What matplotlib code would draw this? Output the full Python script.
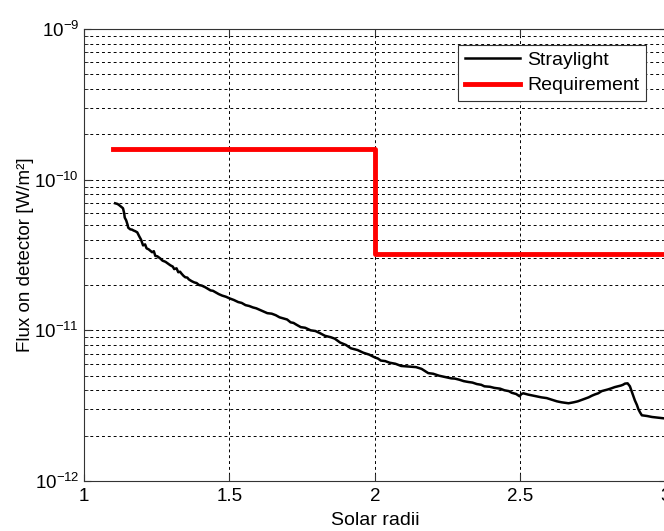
import numpy as np
import matplotlib.pyplot as plt
from matplotlib.ticker import LogLocator, NullFormatter

plt.rcParams['font.family'] = ['Liberation Sans', 'DejaVu Sans']
plt.rcParams['mathtext.default'] = 'regular'

# straylight curve
r_stray = [1.107, 1.115, 1.12, 1.128, 1.134, 1.138, 1.14, 1.145, 1.15, 1.152, 1.159, 1.165,
           1.17, 1.176, 1.183, 1.19, 1.196, 1.203, 1.21, 1.215, 1.222, 1.234, 1.24, 1.245,
           1.252, 1.262, 1.27, 1.28, 1.288, 1.297, 1.305, 1.31, 1.318, 1.324, 1.33, 1.335,
           1.342, 1.348, 1.355, 1.36, 1.37, 1.379, 1.387, 1.395, 1.405, 1.417, 1.427, 1.435,
           1.443, 1.452, 1.463, 1.475, 1.488, 1.5, 1.515, 1.53, 1.542, 1.555, 1.568, 1.58,
           1.592, 1.607, 1.618, 1.63, 1.645, 1.659, 1.672, 1.685, 1.698, 1.71, 1.72, 1.73,
           1.745, 1.76, 1.779, 1.795, 1.81, 1.828, 1.848, 1.862, 1.88, 1.9, 1.917, 1.94,
           1.96, 1.98, 2.0, 2.01, 2.02, 2.035, 2.05, 2.07, 2.09, 2.115, 2.141, 2.16, 2.183,
           2.2, 2.22, 2.24, 2.262, 2.275, 2.29, 2.305, 2.321, 2.335, 2.35, 2.365, 2.376,
           2.395, 2.41, 2.43, 2.445, 2.46, 2.47, 2.485, 2.497, 2.503, 2.51, 2.525, 2.54,
           2.556, 2.572, 2.59, 2.61, 2.625, 2.641, 2.655, 2.665, 2.683, 2.697, 2.71, 2.722,
           2.734, 2.745, 2.755, 2.767, 2.779, 2.79, 2.80, 2.812, 2.824, 2.835, 2.845, 2.852,
           2.859, 2.868, 2.876, 2.885, 2.893, 2.9, 2.905, 2.911, 2.917, 2.935, 2.952, 2.975,
           2.997]
f_stray = [6.97e-11, 6.9e-11, 6.8e-11, 6.6e-11, 6.46e-11, 6.0e-11, 5.6e-11, 5.37e-11,
           5.0e-11, 4.8e-11, 4.68e-11, 4.66e-11, 4.6e-11, 4.55e-11, 4.47e-11, 4.2e-11,
           4.0e-11, 3.66e-11, 3.72e-11, 3.5e-11, 3.45e-11, 3.3e-11, 3.35e-11, 3.12e-11,
           3.1e-11, 3.0e-11, 2.9e-11, 2.85e-11, 2.78e-11, 2.7e-11, 2.65e-11, 2.55e-11,
           2.58e-11, 2.43e-11, 2.45e-11, 2.38e-11, 2.3e-11, 2.25e-11, 2.24e-11, 2.18e-11,
           2.12e-11, 2.08e-11, 2.06e-11, 2.0e-11, 1.98e-11, 1.93e-11, 1.88e-11, 1.84e-11,
           1.83e-11, 1.79e-11, 1.74e-11, 1.7e-11, 1.67e-11, 1.63e-11, 1.59e-11, 1.54e-11,
           1.52e-11, 1.47e-11, 1.45e-11, 1.42e-11, 1.4e-11, 1.36e-11, 1.33e-11, 1.3e-11,
           1.29e-11, 1.26e-11, 1.22e-11, 1.2e-11, 1.18e-11, 1.13e-11, 1.12e-11, 1.09e-11,
           1.05e-11, 1.04e-11, 1.0e-11, 9.9e-12, 9.6e-12, 9.2e-12, 9.0e-12, 8.8e-12,
           8.3e-12, 8.0e-12, 7.6e-12, 7.4e-12, 7.1e-12, 6.9e-12, 6.6e-12, 6.5e-12, 6.3e-12,
           6.25e-12, 6.1e-12, 6.0e-12, 5.8e-12, 5.75e-12, 5.7e-12, 5.55e-12, 5.2e-12,
           5.15e-12, 5.0e-12, 4.9e-12, 4.8e-12, 4.78e-12, 4.7e-12, 4.6e-12, 4.54e-12,
           4.5e-12, 4.4e-12, 4.35e-12, 4.25e-12, 4.22e-12, 4.15e-12, 4.1e-12, 4.0e-12,
           3.95e-12, 3.85e-12, 3.78e-12, 3.65e-12, 3.78e-12, 3.82e-12, 3.75e-12, 3.7e-12,
           3.65e-12, 3.59e-12, 3.55e-12, 3.45e-12, 3.38e-12, 3.33e-12, 3.3e-12, 3.28e-12,
           3.33e-12, 3.38e-12, 3.45e-12, 3.52e-12, 3.59e-12, 3.68e-12, 3.75e-12, 3.82e-12,
           3.95e-12, 4.0e-12, 4.05e-12, 4.12e-12, 4.2e-12, 4.25e-12, 4.3e-12, 4.35e-12,
           4.43e-12, 4.45e-12, 4.25e-12, 3.8e-12, 3.43e-12, 3.2e-12, 3.0e-12, 2.85e-12,
           2.73e-12, 2.7e-12, 2.66e-12, 2.63e-12, 2.6e-12]

# requirement step
r_req = [1.1, 2.0, 2.0, 3.0]
f_req = [1.6e-10, 1.6e-10, 3.2e-11, 3.2e-11]

fig = plt.figure(figsize=(6.64, 5.31), dpi=100)
ax = fig.add_axes([84 / 664, 50 / 531, 580 / 664 + 0.003, 452 / 531])

ax.plot(r_stray, f_stray, color='black', linewidth=1.8, label='Straylight')
ax.plot(r_req, f_req, color='red', linewidth=3.5, label='Requirement')

ax.set_yscale('log')
ax.set_xlim(1, 3)
ax.set_ylim(1e-12, 1e-9)
ax.set_xticks([1, 1.5, 2, 2.5, 3])
ax.set_xticklabels(['1', '1.5', '2', '2.5', '3'])
ax.yaxis.set_major_locator(LogLocator(base=10, numticks=10))
ax.yaxis.set_minor_locator(LogLocator(base=10, subs=np.arange(2, 10), numticks=20))
ax.yaxis.set_minor_formatter(NullFormatter())

grid_style = dict(color='black', linestyle=(0, (3, 3)), linewidth=0.7)
ax.grid(True, which='major', axis='both', **grid_style)
ax.grid(True, which='minor', axis='y', **grid_style)

ax.tick_params(which='both', direction='in', top=True, right=True, labelsize=13.5, color='#333333')
ax.tick_params(which='major', length=5)
ax.tick_params(which='minor', length=3)
ax.tick_params(axis='x', pad=5)
for s in ax.spines.values():
    s.set_color('#333333')

ax.set_xlabel('Solar radii', fontsize=14, labelpad=5)
ax.set_ylabel('Flux on detector [W/m²]', fontsize=13.5, labelpad=0)

leg = ax.legend(loc='upper right', bbox_to_anchor=(0.983, 0.987), fontsize=14,
                fancybox=False, framealpha=1, edgecolor='#333333',
                handlelength=2.8, borderpad=0.35, labelspacing=0.4, handletextpad=0.4)
leg.get_frame().set_linewidth(0.8)

fig.savefig('out.png', dpi=100)
